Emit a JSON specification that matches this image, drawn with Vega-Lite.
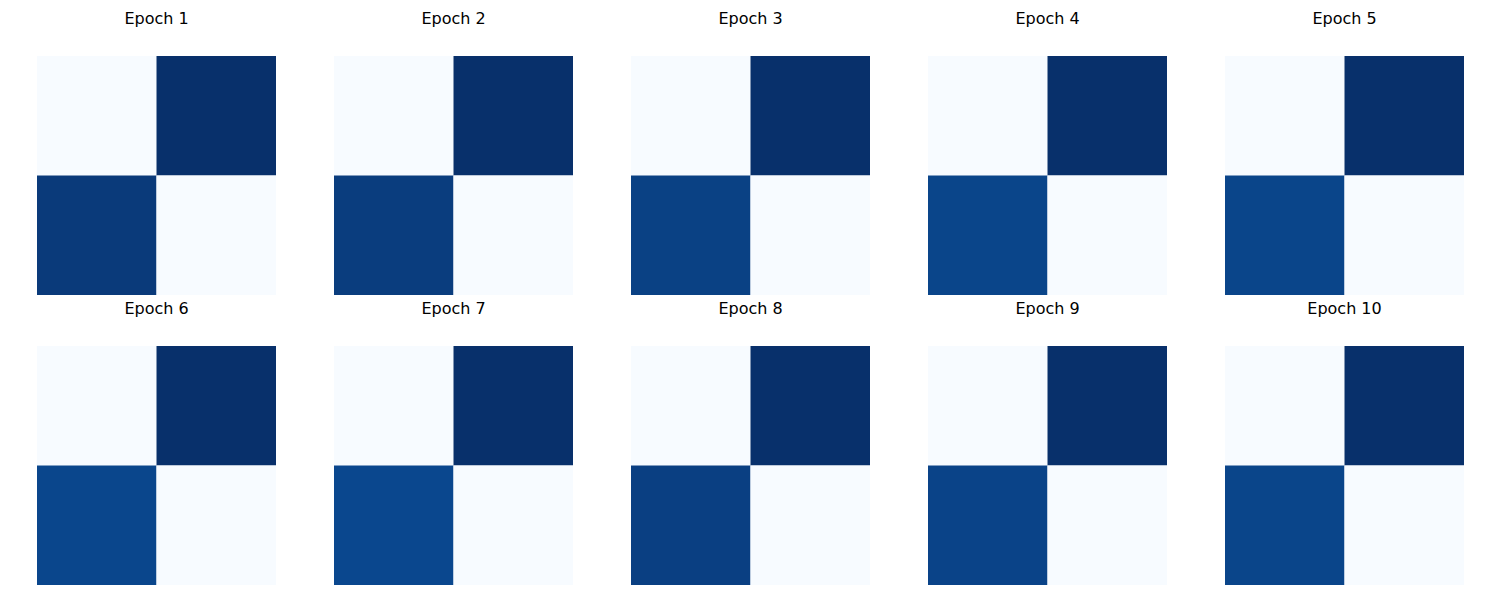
{
  "$schema": "https://vega.github.io/schema/vega-lite/v6.json",
  "padding": {"left": 37, "top": 11, "right": 0, "bottom": 0},
  "config": {"view": {"stroke": null}, "font": "DejaVu Sans"},
  "data": {"values": [
    {"epoch": "Epoch 1", "row": 0, "col": 0, "value": 0.0},
    {"epoch": "Epoch 1", "row": 0, "col": 1, "value": 1.0},
    {"epoch": "Epoch 1", "row": 1, "col": 0, "value": 0.96},
    {"epoch": "Epoch 1", "row": 1, "col": 1, "value": 0.0},
    {"epoch": "Epoch 2", "row": 0, "col": 0, "value": 0.0},
    {"epoch": "Epoch 2", "row": 0, "col": 1, "value": 1.0},
    {"epoch": "Epoch 2", "row": 1, "col": 0, "value": 0.95},
    {"epoch": "Epoch 2", "row": 1, "col": 1, "value": 0.0},
    {"epoch": "Epoch 3", "row": 0, "col": 0, "value": 0.0},
    {"epoch": "Epoch 3", "row": 0, "col": 1, "value": 1.0},
    {"epoch": "Epoch 3", "row": 1, "col": 0, "value": 0.935},
    {"epoch": "Epoch 3", "row": 1, "col": 1, "value": 0.0},
    {"epoch": "Epoch 4", "row": 0, "col": 0, "value": 0.0},
    {"epoch": "Epoch 4", "row": 0, "col": 1, "value": 1.0},
    {"epoch": "Epoch 4", "row": 1, "col": 0, "value": 0.92},
    {"epoch": "Epoch 4", "row": 1, "col": 1, "value": 0.0},
    {"epoch": "Epoch 5", "row": 0, "col": 0, "value": 0.0},
    {"epoch": "Epoch 5", "row": 0, "col": 1, "value": 1.0},
    {"epoch": "Epoch 5", "row": 1, "col": 0, "value": 0.92},
    {"epoch": "Epoch 5", "row": 1, "col": 1, "value": 0.0},
    {"epoch": "Epoch 6", "row": 0, "col": 0, "value": 0.0},
    {"epoch": "Epoch 6", "row": 0, "col": 1, "value": 1.0},
    {"epoch": "Epoch 6", "row": 1, "col": 0, "value": 0.915},
    {"epoch": "Epoch 6", "row": 1, "col": 1, "value": 0.0},
    {"epoch": "Epoch 7", "row": 0, "col": 0, "value": 0.0},
    {"epoch": "Epoch 7", "row": 0, "col": 1, "value": 1.0},
    {"epoch": "Epoch 7", "row": 1, "col": 0, "value": 0.91},
    {"epoch": "Epoch 7", "row": 1, "col": 1, "value": 0.0},
    {"epoch": "Epoch 8", "row": 0, "col": 0, "value": 0.0},
    {"epoch": "Epoch 8", "row": 0, "col": 1, "value": 1.0},
    {"epoch": "Epoch 8", "row": 1, "col": 0, "value": 0.94},
    {"epoch": "Epoch 8", "row": 1, "col": 1, "value": 0.0},
    {"epoch": "Epoch 9", "row": 0, "col": 0, "value": 0.0},
    {"epoch": "Epoch 9", "row": 0, "col": 1, "value": 1.0},
    {"epoch": "Epoch 9", "row": 1, "col": 0, "value": 0.925},
    {"epoch": "Epoch 9", "row": 1, "col": 1, "value": 0.0},
    {"epoch": "Epoch 10", "row": 0, "col": 0, "value": 0.0},
    {"epoch": "Epoch 10", "row": 0, "col": 1, "value": 1.0},
    {"epoch": "Epoch 10", "row": 1, "col": 0, "value": 0.92},
    {"epoch": "Epoch 10", "row": 1, "col": 1, "value": 0.0}
  ]},
  "facet": {
    "field": "epoch", "type": "nominal",
    "sort": ["Epoch 1","Epoch 2","Epoch 3","Epoch 4","Epoch 5","Epoch 6","Epoch 7","Epoch 8","Epoch 9","Epoch 10"],
    "header": {"title": null, "labelFontSize": 16, "labelFont": "DejaVu Sans", "labelColor": "black", "labelBaseline": "alphabetic", "labelPadding": 16}
  },
  "columns": 5,
  "spacing": {"column": 58, "row": 6},
  "spec": {
    "width": 239,
    "height": 239,
    "mark": {"type": "rect"},
    "encoding": {
      "x": {"field": "col", "type": "ordinal", "axis": null, "scale": {"paddingInner": 0, "paddingOuter": 0}},
      "y": {"field": "row", "type": "ordinal", "axis": null, "scale": {"paddingInner": 0, "paddingOuter": 0}},
      "color": {"field": "value", "type": "quantitative", "legend": null,
        "scale": {"type": "linear", "domain": [0, 1], "range": ["#f7fbff", "#deebf7", "#c6dbef", "#9ecae1", "#6baed6", "#4292c6", "#2171b5", "#08519c", "#08306b"]}}
    }
  },
  "resolve": {"scale": {"color": "independent"}}
}
